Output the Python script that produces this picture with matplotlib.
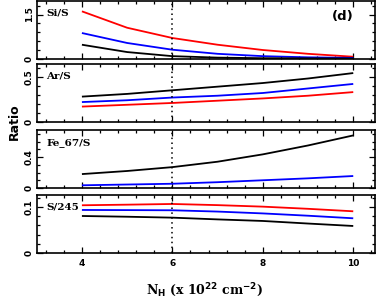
import matplotlib
matplotlib.use("Agg")
import matplotlib.pyplot as plt
from matplotlib.ticker import MultipleLocator, FixedLocator, FixedFormatter

# ---- data ----
nh = [4, 5, 6, 7, 8, 9, 10]
si_red = [1.61, 1.05, 0.70, 0.47, 0.29, 0.16, 0.06]
si_blue = [0.87, 0.53, 0.30, 0.16, 0.08, 0.04, 0.02]
si_black = [0.47, 0.22, 0.08, 0.03, 0.01, 0.005, 0.0]
ar_black = [0.28, 0.31, 0.35, 0.39, 0.43, 0.48, 0.54]
ar_blue = [0.22, 0.24, 0.27, 0.29, 0.32, 0.37, 0.42]
ar_red = [0.17, 0.19, 0.21, 0.235, 0.26, 0.29, 0.33]
fe_black = [0.18, 0.22, 0.27, 0.34, 0.435, 0.55, 0.68]
fe_blue = [0.035, 0.045, 0.055, 0.075, 0.10, 0.125, 0.155]
s_red = [0.1037, 0.105, 0.1065, 0.104, 0.1007, 0.096, 0.0906]
s_blue = [0.0935, 0.0932, 0.0928, 0.090, 0.086, 0.081, 0.0754]
s_black = [0.0804, 0.0788, 0.0768, 0.073, 0.0696, 0.064, 0.0587]

panel_names = ["Si/S", "Ar/S", "Fe_67/S", "S/245"]
ylims = [(0, 1.98), (0, 0.64), (0, 0.75), (0, 0.126)]
ymajor = [[0, 1.5], [0, 0.5], [0, 0.4], [0, 0.1]]
ylabels = [["0", "1.5"], ["0", "0.5"], ["0", "0.4"], ["0", "0.1"]]
yminor = [0.3, 0.1, 0.1, 0.02]
xticks = [4, 6, 8, 10]
xticklabels = ["4", "6", "8", "10"]
marker_x = 6

series = [
    [(si_red, "red"), (si_blue, "blue"), (si_black, "black")],
    [(ar_red, "red"), (ar_blue, "blue"), (ar_black, "black")],
    [(fe_blue, "blue"), (fe_black, "black")],
    [(s_red, "red"), (s_blue, "blue"), (s_black, "black")],
]

W, H = 378, 300
fig = plt.figure(figsize=(W / 100, H / 100), dpi=100)
left, right = 36.7, 374.5
tops = [0.5, 64, 130, 195]
ph = 58
font = dict(family="DejaVu Serif", weight="bold")

for i in range(4):
    t = tops[i]
    ax = fig.add_axes([left / W, 1 - (t + ph) / H, (right - left) / W, ph / H])
    for vals, col in series[i]:
        ax.plot(nh, vals, color=col, lw=1.3, solid_capstyle="butt")
    ax.axvline(marker_x, color="black", lw=1.1, ls=(0, (1, 2.2)))
    ax.set_xlim(3.0, 10.47)
    ax.set_ylim(*ylims[i])
    ax.xaxis.set_major_locator(FixedLocator(xticks))
    ax.xaxis.set_minor_locator(MultipleLocator(0.4))
    ax.yaxis.set_major_locator(FixedLocator(ymajor[i]))
    ax.yaxis.set_minor_locator(MultipleLocator(yminor[i]))
    ax.tick_params(which="both", direction="in", top=True, right=True,
                   width=0.9, pad=2)
    ax.tick_params(which="major", length=4.5)
    ax.tick_params(which="minor", length=2.5)
    for sp in ax.spines.values():
        sp.set_linewidth(1.2)
    ax.yaxis.set_major_formatter(FixedFormatter(ylabels[i]))
    for lab in ax.get_yticklabels():
        lab.set_rotation(90)
        lab.set_va("center")
        lab.set_fontsize(6.5)
        lab.set_fontweight("bold")
        lab.set_family("DejaVu Sans")
    if i == 3:
        ax.xaxis.set_major_formatter(FixedFormatter(xticklabels))
        for lab in ax.get_xticklabels():
            lab.set_fontsize(6.5)
            lab.set_fontweight("bold")
            lab.set_family("DejaVu Sans")
        ax.tick_params(axis="x", pad=4)
    else:
        ax.set_xticklabels([])
    ax.text(0.028, 0.79, panel_names[i], transform=ax.transAxes,
            fontsize=7.5, va="center", ha="left", **font)
    if i == 0:
        ax.text(0.905, 0.72, "(d)", transform=ax.transAxes, fontsize=9.5,
                va="center", ha="center", family="DejaVu Sans", weight="bold")

fig.text(14 / W, 1 - 122 / H, "Ratio", rotation=90, fontsize=9,
         va="center", ha="center", family="DejaVu Sans", weight="bold")
fig.text(205 / W, 1 - 290 / H, r"N$_\mathbf{H}$ (x 10$^\mathbf{22}$ cm$^\mathbf{-2}$)",
         fontsize=9, va="center", ha="center", family="DejaVu Serif", weight="bold")

fig.savefig("out.png", dpi=100)
